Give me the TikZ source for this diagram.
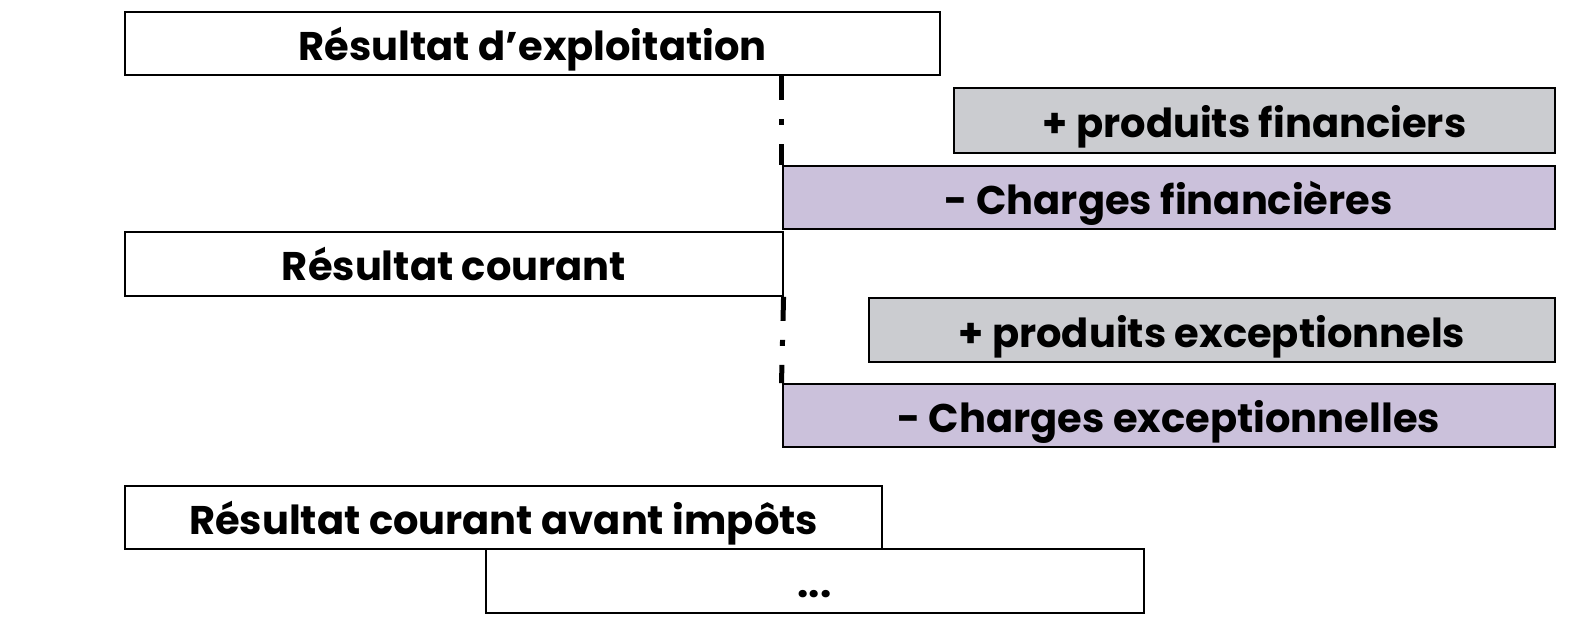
\documentclass[tikz,border=0pt]{standalone}
\usepackage{fontspec}
\setmainfont{Poppins}[BoldFont=* Bold]
\definecolor{boxgray}{HTML}{CBCCD0}
\definecolor{boxpurple}{HTML}{CBC1DB}
\begin{document}
\begin{tikzpicture}[x=1pt,y=-1pt,
  box/.style={draw=black,line width=2pt,inner sep=0pt,font=\fontsize{40}{44}\selectfont\bfseries,text=black,text height=34pt,text depth=0pt},
  gbox/.style={box,fill=boxgray},
  pbox/.style={box,fill=boxpurple},
  link/.style={line width=5pt,dash pattern=on 24pt off 19pt on 6pt off 19pt}]
\useasboundingbox (0,0) rectangle (1573,622);
\node[box,minimum width=814.6pt,minimum height=63.2pt] (re) at (532.7,43.6) {Résultat d’exploitation};
\node[gbox,minimum width=601pt,minimum height=64.2pt] (pf) at (1254.5,120.4) {+ produits financiers};
\node[pbox,minimum width=772.4pt,minimum height=63.2pt] (cf) at (1168.7,197.1) {- Charges financières};
\node[box,minimum width=657.1pt,minimum height=64.2pt] (rc) at (454,263.8) {Résultat courant};
\node[gbox,minimum width=686.1pt,minimum height=64.2pt] (pe) at (1211.9,330.1) {+ produits exceptionnels};
\node[pbox,minimum width=772.4pt,minimum height=63.2pt] (ce) at (1168.7,415.8) {- Charges exceptionnelles};
\node[box,minimum width=756.4pt,minimum height=63.2pt] (rai) at (503.6,517.1) {Résultat courant avant impôts};
\node[box,minimum width=658.1pt,minimum height=64.2pt] (dots) at (814.6,580.8) {...};
\draw[link] (re.south -| cf.north west) -- (cf.north west);
\draw[link] (rc.south east) -- (ce.north west);
\end{tikzpicture}
\end{document}
